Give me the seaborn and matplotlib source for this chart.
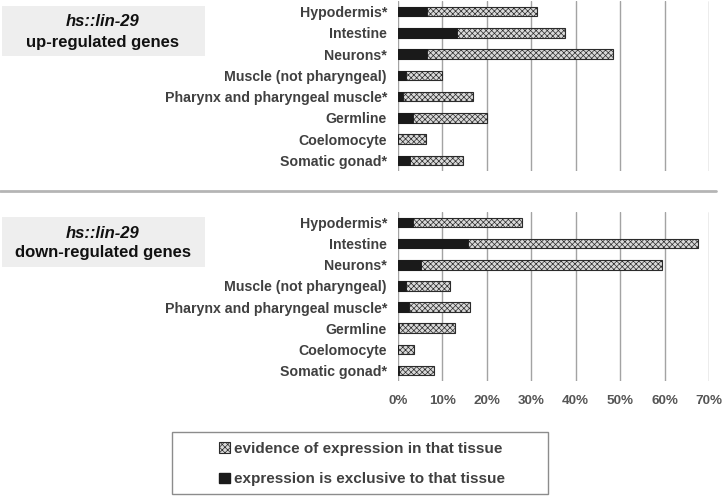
import matplotlib
matplotlib.use('Agg')
import pandas as pd
import matplotlib.pyplot as plt
import seaborn as sns
from matplotlib.lines import Line2D
from matplotlib.patches import Patch, Rectangle

# estilo
sns.set_style('white')
plt.rcParams['font.family'] = ['Liberation Sans', 'DejaVu Sans']
plt.rcParams['hatch.linewidth'] = 0.5

# dados (% dos genes)
tissues = ['Hypodermis*', 'Intestine', 'Neurons*', 'Muscle (not pharyngeal)',
           'Pharynx and pharyngeal muscle*', 'Germline', 'Coelomocyte', 'Somatic gonad*']
up_evidence = [31.3, 37.6, 48.4, 10.0, 16.8, 20.0, 6.4, 14.7]
up_exclusive = [6.5, 13.3, 6.5, 1.7, 1.2, 3.3, 0.0, 2.8]
down_evidence = [28.0, 67.6, 59.4, 11.6, 16.3, 12.8, 3.6, 8.0]
down_exclusive = [3.4, 15.7, 5.2, 1.7, 2.5, 0.3, 0.0, 0.3]
x_ticks = [0, 10, 20, 30, 40, 50, 60, 70]
panel_titles = ['up-regulated genes', 'down-regulated genes']
legend_labels = ['evidence of expression in that tissue', 'expression is exclusive to that tissue']

W, H = 725, 497
fig = plt.figure(figsize=(W / 100, H / 100), dpi=100)

hatch_face = '#d9d9d9'
dark = '#1a1a1a'


def draw_panel(ax, evidence, exclusive, show_ticks):
    df = pd.DataFrame({'tissue': tissues, 'evidence': evidence, 'exclusive': exclusive})
    sns.barplot(data=df, x='evidence', y='tissue', orient='h', color=hatch_face, saturation=1,
                edgecolor='#2b2b2b', linewidth=0.8, hatch='xxxxxx', width=0.45, ax=ax)
    sns.barplot(data=df, x='exclusive', y='tissue', orient='h', color=dark, saturation=1,
                edgecolor=dark, linewidth=0.6, width=0.45, ax=ax)
    ax.set_xlim(0, 70)
    ax.set_xticks(x_ticks)
    ax.xaxis.grid(True, color='#a3a3a3', lw=1)
    ax.set_axisbelow(True)
    for s in ax.spines.values():
        s.set_visible(False)
    ax.set_xlabel('')
    ax.set_ylabel('')
    ax.tick_params(axis='y', length=0, pad=8, labelsize=10.2, labelcolor='#404040')
    for t in ax.get_yticklabels():
        t.set_fontweight('bold')
    if show_ticks:
        ax.set_xticklabels([f'{v}%' for v in x_ticks])
        ax.tick_params(axis='x', length=0, pad=10, labelsize=9.7, labelcolor='#555555')
        for t in ax.get_xticklabels():
            t.set_fontweight('bold')
    else:
        ax.tick_params(axis='x', length=0, labelbottom=False)


left = 398 / W
width = (709 - 398) / W
ax1 = fig.add_axes([left, 1 - 171 / H, width, 170 / H])
ax2 = fig.add_axes([left, 1 - 381 / H, width, 169 / H])
draw_panel(ax1, up_evidence, up_exclusive, False)
draw_panel(ax2, down_evidence, down_exclusive, True)

# caixas de título
for top, title in [(6, panel_titles[0]), (217, panel_titles[1])]:
    fig.patches.append(Rectangle((2 / W, 1 - (top + 50) / H), 203 / W, 50 / H,
                                 transform=fig.transFigure, facecolor='#eeeeee', edgecolor='none'))
    fig.text(103 / W, 1 - (top + 16) / H, 'hs::lin-29', ha='center', va='center',
             fontsize=12, fontweight='bold', fontstyle='italic', color='#111111')
    fig.text(103 / W, 1 - (top + 36) / H, title, ha='center', va='center',
             fontsize=12, fontweight='bold', color='#111111')

# linha separadora
fig.add_artist(Line2D([0, 716 / W], [1 - 191 / H, 1 - 191 / H], transform=fig.transFigure,
                      color='#b5b5b5', lw=2))

# legenda
fig.patches.append(Rectangle((172 / W, 1 - 494 / H), 376 / W, 62 / H, transform=fig.transFigure,
                             facecolor='white', edgecolor='#8c8c8c', lw=1))
handles = [Patch(facecolor=hatch_face, edgecolor='#2b2b2b', hatch='xxxxxx', lw=0.8),
           Patch(facecolor=dark, edgecolor=dark)]
leg = fig.legend(handles, legend_labels, loc='center', bbox_to_anchor=(362 / W, 1 - 464 / H),
                 frameon=False, fontsize=11, handlelength=0.7, handleheight=0.7,
                 handletextpad=0.3, labelspacing=1.1)
for t in leg.get_texts():
    t.set_fontweight('bold')
    t.set_color('#404040')

fig.savefig('out.png', dpi=100)
